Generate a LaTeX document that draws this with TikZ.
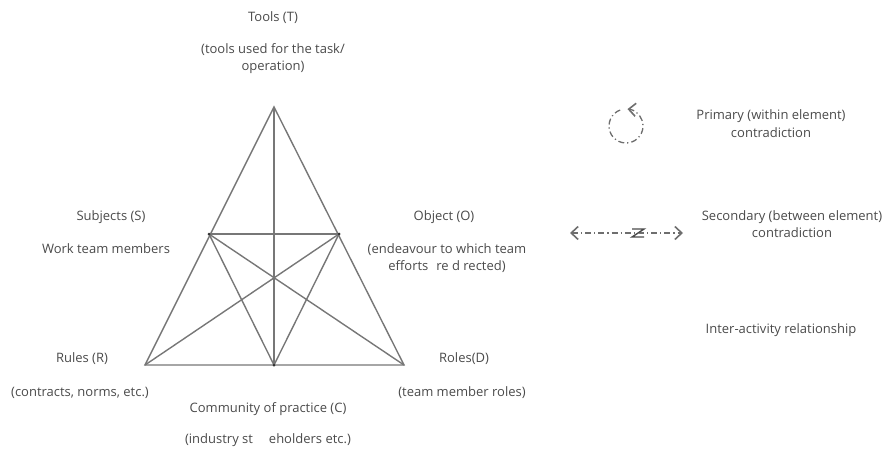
\documentclass[tikz,border=0pt]{standalone}
\usepackage{fontspec}
\setmainfont{Open Sans}
\usetikzlibrary{arrows.meta,calc}
\definecolor{txtgray}{HTML}{4A4A4A}
\definecolor{linegray}{HTML}{777777}
\tikzset{
  lbl/.style={text=txtgray, font=\fontsize{13}{14}\selectfont, inner sep=0pt, align=center},
  tri/.style={draw=linegray, line width=1.4pt},
  vdot/.style={circle, fill=black!80, inner sep=0pt, minimum size=3pt},
  legendline/.style={draw=txtgray!80, line width=1.3pt, dash pattern=on 6pt off 3pt on 1.2pt off 3pt},
  barb/.tip={Straight Barb[length=7pt,width=13pt,line width=1.6pt]},
}
\begin{document}
\begin{tikzpicture}[x=1pt,y=-1pt]
\useasboundingbox (0,0) rectangle (891,455);
% vertices
\coordinate (T) at (274,107);
\coordinate (R) at (145,365);
\coordinate (D) at (404,365);
\coordinate (C) at (274,365);
\coordinate (S) at (209,234);
\coordinate (O) at (339,234);
% triangle
\draw[tri] (T) -- (R) -- (D) -- cycle;
\draw[tri] (T) -- (C);
\draw[tri] (S) -- (O);
\draw[tri] (S) -- (C) -- (O);
\draw[tri] (S) -- (D);
\draw[tri] (O) -- (R);
\node[vdot] (dS) at (S) {};
\node[vdot] (dO) at (O) {};
\node[vdot] (dC) at (C) {};
% labels
\node[lbl] (tT) at (273,18) {Tools (T)};
\node[lbl] (tT2) at (273,59) {(tools used for the task/\\[3pt]operation)};
\node[lbl] (tS) at (111,217) {Subjects (S)};
\node[lbl] (tS2) at (106,249) {Work team members};
\node[lbl] (tO) at (444,217) {Object (O)};
\node[lbl] (tO2) at (447,258) {(endeavour to which team\\[3pt]efforts\hspace{8pt}re d rected)};
\node[lbl] (tR) at (82,359) {Rules (R)};
\node[lbl] (tR2) at (80,393) {(contracts, norms, etc.)};
\node[lbl] (tD) at (464,359) {Roles(D)};
\node[lbl] (tD2) at (462,393) {(team member roles)};
\node[lbl] (tC) at (268,409) {Community of practice (C)};
\node[lbl] (tC2) at (268,440) {(industry st\hspace{16pt}eholders etc.)};
% legend
\coordinate (pc) at (626,126);
\draw[legendline, -{barb}] ($(pc)+(250:17)$) arc[start angle=250, end angle=-85, radius=17];
\node[lbl] (tP) at (771,124) {Primary (within element)\\[4pt]contradiction};
\coordinate (sa) at (570,233);
\coordinate (sb) at (683,233);
\coordinate (zz) at (638,233);
\draw[legendline, {barb}-{barb}] (sa) -- (sb);
\draw[draw=txtgray, line width=1.4pt, fill=white] ($(zz)+(-6,-4)$) -- ($(zz)+(6,-4)$) -- ($(zz)+(-6,4)$) -- ($(zz)+(6,4)$);
\node[lbl] (tSec) at (792,224) {Secondary (between element)\\[3pt]contradiction};
\node[lbl] (tI) at (781,330) {Inter-activity relationship};
\end{tikzpicture}
\end{document}
